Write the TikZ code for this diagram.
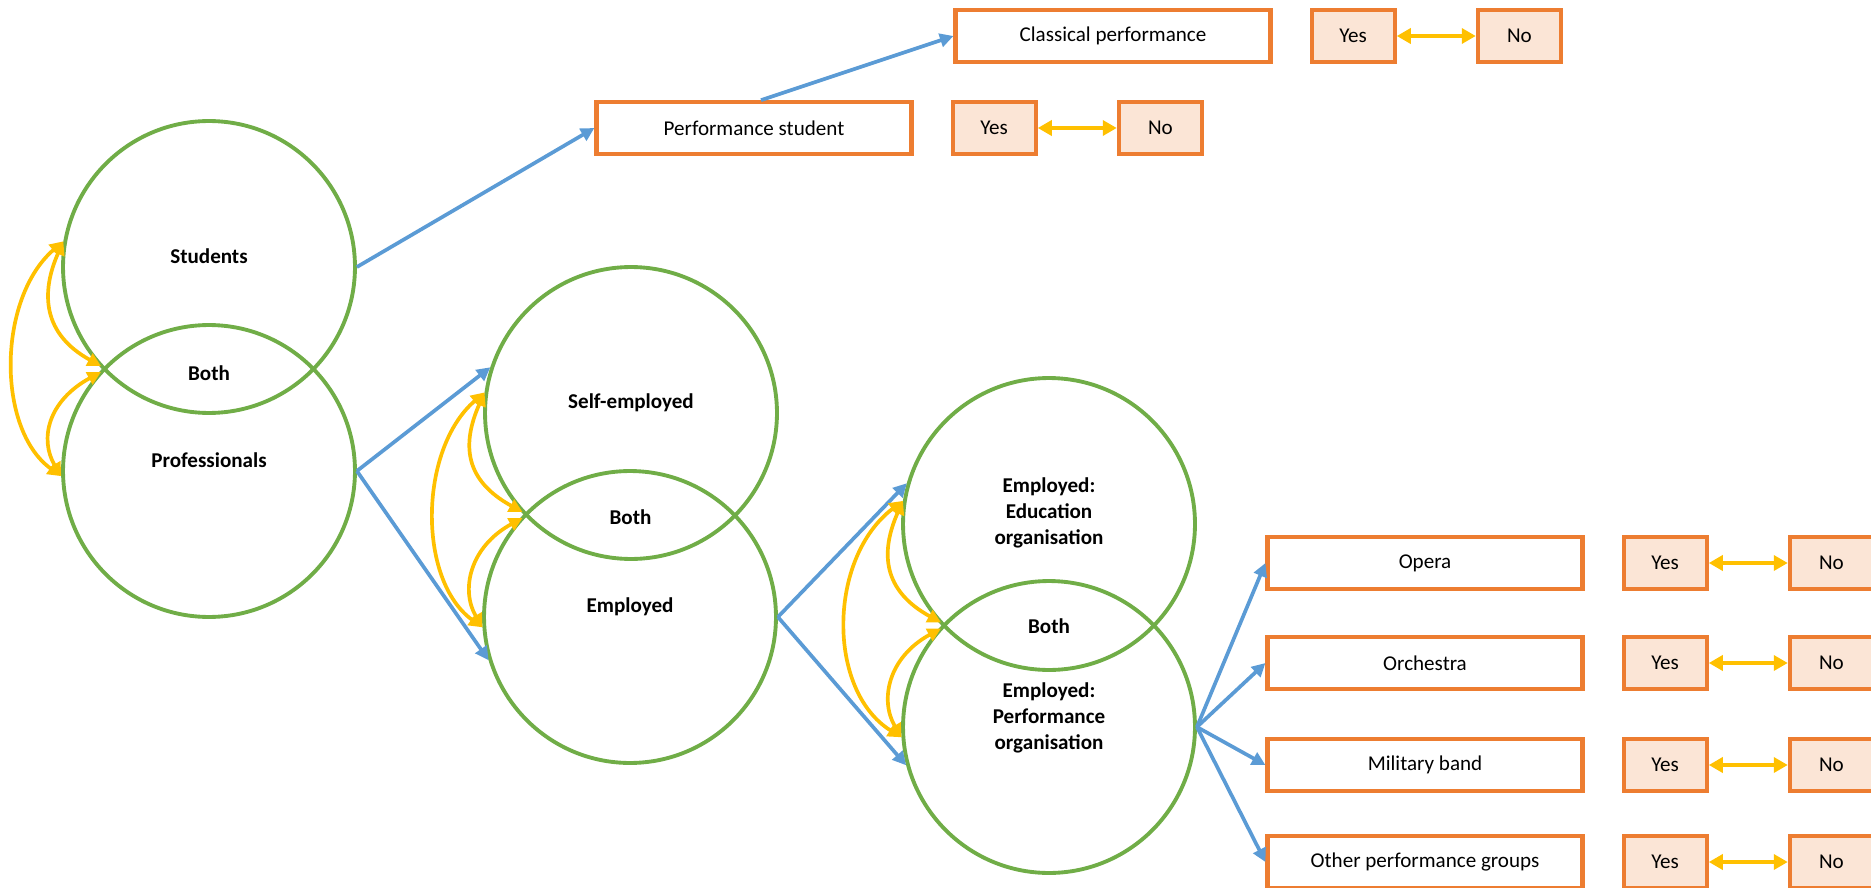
\documentclass[tikz,border=0pt]{standalone}
\usepackage{fontspec}
\setmainfont{Carlito}
\usepackage{tikz}
\usetikzlibrary{arrows.meta,positioning,calc}
\definecolor{vgreen}{HTML}{70AD47}
\definecolor{vblue}{HTML}{5B9BD5}
\definecolor{vorange}{HTML}{ED7D31}
\definecolor{vpeach}{HTML}{FBE5D6}
\definecolor{vyellow}{HTML}{FFC000}

\begin{document}
\begin{tikzpicture}[
    x=0.02cm, y=-0.02cm,
    ring/.style={circle,draw=vgreen,line width=2.2pt,minimum size=5.84cm,inner sep=0pt},
    lbl/.style={font=\fontsize{12}{15}\selectfont\bfseries,align=center,inner sep=0pt},
    opt/.style={rectangle,draw=vorange,line width=2.4pt,minimum width=6.3cm,minimum height=1.03cm,inner sep=0pt},
    yn/.style={rectangle,draw=vorange,fill=vpeach,line width=2.4pt,minimum width=1.66cm,minimum height=1.04cm,inner sep=0pt},
    btip/.tip={Triangle[length=0.27cm,width=0.27cm]},
    ytip/.tip={Triangle[length=0.28cm,width=0.3cm]},
    arr/.style={-btip,draw=vblue,line width=2.1pt},
    yarr/.style={btip-btip,draw=vyellow,line width=2.1pt},
    ynarr/.style={ytip-ytip,draw=vyellow,line width=2.4pt},
    font=\fontsize{12}{15}\selectfont
  ]
  \useasboundingbox (0,0) rectangle (1871,888);

  %% Circles
  \node[ring] (stu)  at (209,267) {};
  \node[ring] (pro)  at (209,471) {};
  \node[ring] (self) at (631,413) {};
  \node[ring] (emp)  at (630,617) {};
  \node[ring] (edu)  at (1049,524) {};
  \node[ring] (perf) at (1049,727) {};

  %% Circle labels
  \node[lbl] (stu-t)  at ([yshift=0.22cm]stu.center)  {Students};
  \node[lbl] (pro-t)  at ([yshift=0.22cm]pro.center)  {Professionals};
  \node[lbl] (self-t) at ([yshift=0.2cm]self.center)  {Self-employed};
  \node[lbl] (emp-t)  at ([yshift=0.2cm]emp.center)   {Employed};
  \node[lbl] (edu-t)  at ([yshift=0.22cm]edu.center)  {Employed:\\Education\\organisation};
  \node[lbl] (perf-t) at ([yshift=0.18cm]perf.center) {Employed:\\Performance\\organisation};
  \node[lbl] (both1) at ($(stu)!0.5!(pro)+(0,4)$)   {Both};
  \node[lbl] (both2) at ($(self)!0.5!(emp)+(0,2)$)  {Both};
  \node[lbl] (both3) at ($(edu)!0.5!(perf)+(0,1)$)  {Both};

  %% Circle crossings
  \coordinate (x1) at ($(stu)!0.5!(pro)+(-105,0)$);
  \coordinate (x2) at ($(self)!0.5!(emp)+(-105,0)$);
  \coordinate (x3) at ($(edu)!0.5!(perf)+(-105,0)$);

  %% Option boxes
  \node[opt] (ps)    at (754,128)  {Performance student};
  \node[opt] (cp)    at (1113,36)  {Classical performance};
  \node[opt] (opera) at (1425,563) {Opera};
  \node[opt] (orch)  at (1425,663) {Orchestra};
  \node[opt] (mil)   at (1425,765) {Military band};
  \node[opt] (oth)   at (1425,862) {Other performance groups};

  %% Yes / No boxes
  \node[yn,right=0.74cm of cp]    (yes1) {Yes};
  \node[yn,right=1.58cm of yes1]  (no1)  {No};
  \node[yn,right=0.74cm of ps]    (yes2) {Yes};
  \node[yn,right=1.58cm of yes2]  (no2)  {No};
  \node[yn,right=0.74cm of opera] (yes3) {Yes};
  \node[yn,right=1.58cm of yes3]  (no3)  {No};
  \node[yn,right=0.74cm of orch]  (yes4) {Yes};
  \node[yn,right=1.58cm of yes4]  (no4)  {No};
  \node[yn,right=0.74cm of mil]   (yes5) {Yes};
  \node[yn,right=1.58cm of yes5]  (no5)  {No};
  \node[yn,right=0.74cm of oth]   (yes6) {Yes};
  \node[yn,right=1.58cm of yes6]  (no6)  {No};

  %% Yes <-> No
  \draw[ynarr] (yes1) -- (no1);
  \draw[ynarr] (yes2) -- (no2);
  \draw[ynarr] (yes3) -- (no3);
  \draw[ynarr] (yes4) -- (no4);
  \draw[ynarr] (yes5) -- (no5);
  \draw[ynarr] (yes6) -- (no6);

  %% Blue branches
  \draw[arr] (stu.east) -- (ps.west);
  \draw[arr] ([xshift=0.14cm]ps.north) -- (cp.west);
  \draw[arr] (pro.east) -- (self.162);
  \draw[arr] (pro.east) -- (emp.197);
  \draw[arr] (emp.east) -- (edu.164);
  \draw[arr] (emp.east) -- (perf.195);
  \draw[arr] (perf.east) -- (opera.west);
  \draw[arr] (perf.east) -- (orch.west);
  \draw[arr] (perf.east) -- (mil.west);
  \draw[arr] (perf.east) -- (oth.west);

  %% Yellow swaps: students / professionals
  \draw[yarr] (stu.170) .. controls +(-66,57) and +(-65,-47) .. (pro.182);
  \draw[yarr] (stu.170) .. controls +(-23,52) and +(-58,-32) .. ([shift={(-3,-3)}]x1);
  \draw[yarr] ([shift={(-3,3)}]x1) .. controls +(-53,29) and +(-22,-37) .. (pro.182);

  %% Yellow swaps: self-employed / employed
  \draw[yarr] (self.172) .. controls +(-66,57) and +(-65,-47) .. (emp.184);
  \draw[yarr] (self.172) .. controls +(-23,52) and +(-58,-32) .. ([shift={(-3,-3)}]x2);
  \draw[yarr] ([shift={(-3,3)}]x2) .. controls +(-53,29) and +(-22,-37) .. (emp.184);

  %% Yellow swaps: education / performance
  \draw[yarr] (edu.171) .. controls +(-75,57) and +(-75,-47) .. (perf.184);
  \draw[yarr] (edu.171) .. controls +(-23,52) and +(-58,-32) .. ([shift={(-3,-3)}]x3);
  \draw[yarr] ([shift={(-3,3)}]x3) .. controls +(-53,29) and +(-22,-37) .. (perf.184);
\end{tikzpicture}
\end{document}
